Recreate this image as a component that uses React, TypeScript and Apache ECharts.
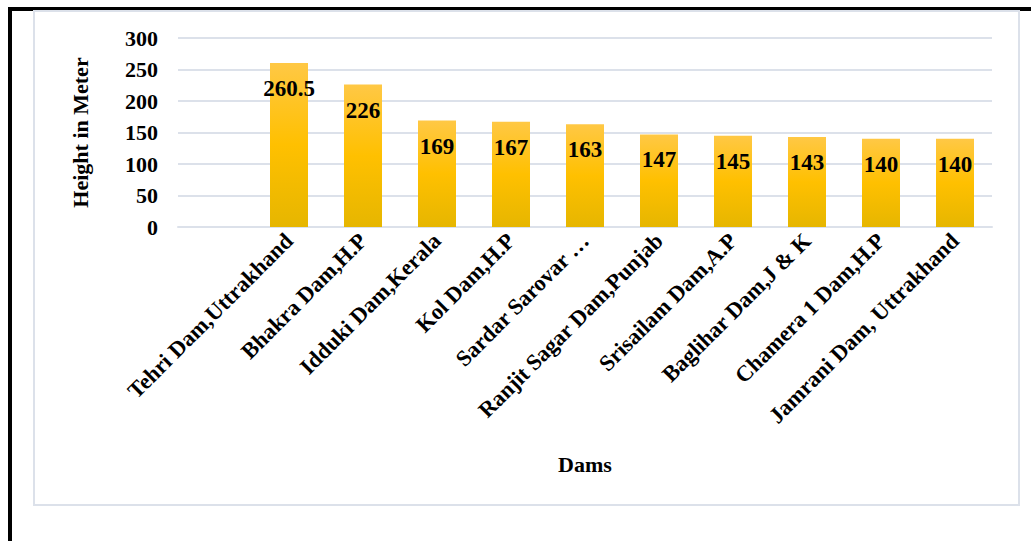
import React, { useEffect, useRef } from "react";
import * as echarts from "echarts";

const categories: string[] = [
  "",
  "Tehri Dam,Uttrakhand",
  "Bhakra Dam,H.P",
  "Idduki Dam,Kerala",
  "Kol Dam,H.P",
  "Sardar Sarovar …",
  "Ranjit Sagar Dam,Punjab",
  "Srisailam Dam,A.P",
  "Baglihar Dam,J & K",
  "Chamera 1 Dam,H.P",
  "Jamrani Dam, Uttrakhand",
];
const heights: (number | null)[] = [null, 260.5, 226, 169, 167, 163, 147, 145, 143, 140, 140];
const yTicks = { min: 0, max: 300, interval: 50 };

const FONT = '"Liberation Serif", "Times New Roman", serif';

export default function App() {
  const ref = useRef<HTMLDivElement>(null);
  useEffect(() => {
    if (!ref.current) return;
    const chart = echarts.init(ref.current, undefined, { renderer: "svg" });
    chart.setOption({
      animation: false,
      backgroundColor: "#ffffff",
      graphic: [
        { type: "rect", shape: { x: 8, y: 7, width: 1023, height: 4 }, style: { fill: "#000" }, silent: true },
        { type: "rect", shape: { x: 8, y: 7, width: 4, height: 534 }, style: { fill: "#000" }, silent: true },
        {
          type: "rect",
          shape: { x: 34, y: 11, width: 985, height: 494 },
          style: { fill: "none", stroke: "#DCE1EA", lineWidth: 2 },
          silent: true,
        },
      ],
      grid: { left: 178, right: 39, top: 38, bottom: 314, containLabel: false },
      xAxis: {
        type: "category",
        data: categories,
        name: "Dams",
        nameLocation: "middle",
        nameGap: 226,
        nameTextStyle: { fontFamily: FONT, fontWeight: "bold", fontSize: 22, color: "#000" },
        axisLine: { show: true, lineStyle: { color: "#DCE1EA", width: 2 } },
        axisTick: { show: false },
        axisLabel: {
          interval: 0,
          rotate: 45,
          margin: 10,
          fontFamily: FONT,
          fontWeight: "bold",
          fontSize: 22.5,
          color: "#000",
        },
      },
      yAxis: {
        type: "value",
        min: yTicks.min,
        max: yTicks.max,
        interval: yTicks.interval,
        name: "Height in Meter",
        nameLocation: "middle",
        nameGap: 87,
        nameRotate: 90,
        nameTextStyle: { fontFamily: FONT, fontWeight: "bold", fontSize: 22, color: "#000" },
        axisLine: { show: false },
        axisTick: { show: false },
        axisLabel: { margin: 20, fontFamily: FONT, fontWeight: "bold", fontSize: 22, color: "#000" },
        splitLine: { lineStyle: { color: "#DCE1EA", width: 2 } },
      },
      series: [
        {
          type: "bar",
          data: heights,
          barWidth: 38,
          itemStyle: {
            color: new echarts.graphic.LinearGradient(0, 0, 0, 1, [
              { offset: 0, color: "#FFC845" },
              { offset: 0.5, color: "#FFC000" },
              { offset: 1, color: "#E6B600" },
            ]),
          },
          label: {
            show: true,
            position: "insideTop",
            distance: 14,
            fontFamily: FONT,
            fontWeight: "bold",
            fontSize: 23,
            color: "#000",
          },
        },
      ],
    });
    return () => chart.dispose();
  }, []);
  return (
    <div
      ref={ref}
      style={{ position: "fixed", left: 0, top: 0, width: 1031, height: 541 }}
    />
  );
}
